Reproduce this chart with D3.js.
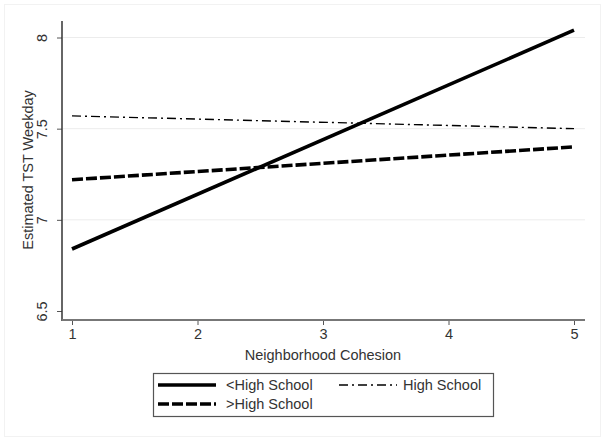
<!DOCTYPE html>
<html><head><meta charset="utf-8">
<script src="https://cdn.jsdelivr.net/npm/d3@7"></script>
<style>body{margin:0;background:#fff}svg{display:block;font-family:Arial,"Liberation Sans",sans-serif}</style>
</head><body><svg id="c" width="604" height="442"></svg>
<script>
const xValues = [1, 5];
const seriesNames = ["<High School", "High School", ">High School"];
const lessHS = [6.84, 8.04];
const hs = [7.57, 7.50];
const moreHS = [7.22, 7.40];
const xTicks = [1, 2, 3, 4, 5];
const yTicks = [6.5, 7, 7.5, 8];
const gridTicks = [7, 7.5, 8];

const svg = d3.select("#c");
// faint outer graph region border
svg.append("rect").attr("x",4.5).attr("y",4.5).attr("width",596).attr("height",432)
  .attr("fill","none").attr("stroke","#f2f2f2");

const x = d3.scaleLinear().domain([1,5]).range([72,574]);
const y = d3.scaleLinear().domain([6.5,8]).range([311,37.5]);
const axL = 62, axB = 320;
const fs = "14.5px";

// gridlines
svg.append("g").selectAll("line").data(gridTicks).join("line")
  .attr("x1",axL+1).attr("x2",585).attr("y1",d=>y(d)).attr("y2",d=>y(d))
  .attr("stroke","#ececec").attr("stroke-width",1);

// y axis
const ya = svg.append("g").attr("transform",`translate(${axL},0)`)
  .call(d3.axisLeft(y).tickValues(yTicks).tickFormat(d3.format("")).tickSize(5).tickPadding(9));
ya.select(".domain").remove();
ya.selectAll(".tick line").attr("stroke","#555");
ya.selectAll(".tick text").attr("fill","#333").style("font-size",fs)
  .attr("transform","rotate(-90)").attr("x",0).attr("y",-15).attr("dy","0").attr("text-anchor","middle");
svg.append("line").attr("x1",axL).attr("x2",axL).attr("y1",21).attr("y2",axB+1)
  .attr("stroke","#333").attr("stroke-width",1.5);

// x axis
const xa = svg.append("g").attr("transform",`translate(0,${axB})`)
  .call(d3.axisBottom(x).tickValues(xTicks).tickFormat(d3.format("d")).tickSize(5).tickPadding(4));
xa.select(".domain").remove();
xa.selectAll(".tick line").attr("stroke","#555");
xa.selectAll(".tick text").attr("fill","#333").style("font-size",fs);
svg.append("line").attr("x1",axL).attr("x2",585).attr("y1",axB).attr("y2",axB)
  .attr("stroke","#777").attr("stroke-width",2);

// axis titles
svg.append("text").attr("x",323).attr("y",360).attr("text-anchor","middle")
  .attr("fill","#333").style("font-size",fs).text("Neighborhood Cohesion");
svg.append("text").attr("transform","translate(33,170) rotate(-90)").attr("text-anchor","middle")
  .attr("fill","#333").style("font-size",fs).text("Estimated TST Weekday");

const styles = [
  {w:3.6, dash:null},
  {w:1.4, dash:"9,4,2,4"},
  {w:3.6, dash:"11,3"}
];
const data = [lessHS, hs, moreHS];
const line = d3.line().x((d,i)=>x(xValues[i])).y(d=>y(d));
data.forEach((s,i)=>{
  svg.append("path").datum(s).attr("d",line).attr("fill","none").attr("stroke","#000")
    .attr("stroke-width",styles[i].w).attr("stroke-dasharray",styles[i].dash);
});

// legend
svg.append("rect").attr("x",153.5).attr("y",373.5).attr("width",340).attr("height",43)
  .attr("fill","#fff").attr("stroke","#555").attr("stroke-width",1.2);
const legPos = [{x:158,y:385},{x:339,y:385},{x:158,y:404}];
seriesNames.forEach((n,i)=>{
  const p = legPos[i];
  svg.append("line").attr("x1",p.x).attr("x2",p.x+58).attr("y1",p.y).attr("y2",p.y)
    .attr("stroke","#000").attr("stroke-width",styles[i].w).attr("stroke-dasharray",styles[i].dash);
  svg.append("text").attr("x",p.x+(i==1?64:68)).attr("y",p.y).attr("dy","0.35em")
    .attr("fill","#333").style("font-size",fs).text(n);
});
</script></body></html>
